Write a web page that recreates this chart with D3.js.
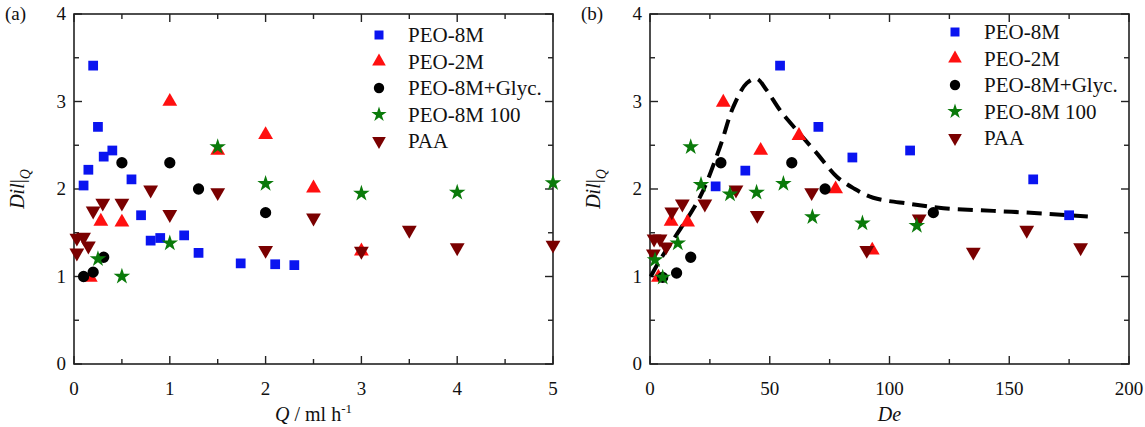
<!DOCTYPE html>
<html><head><meta charset="utf-8">
<script src="https://cdn.jsdelivr.net/npm/d3@7/dist/d3.min.js"></script>
<style>body{margin:0;background:#fff}svg{display:block}text{font-family:"Liberation Serif","Times New Roman",serif;fill:#111}</style>
</head><body><svg id="c" width="1145" height="427"></svg>
<script>
// ---- Data: panel (a) Dil_Q vs Q ----
const seriesNames = ["PEO-8M","PEO-2M","PEO-8M+Glyc.","PEO-8M 100","PAA"];
const a_peo8m_Q   = [0.20,0.25,0.31,0.40,0.15,0.10,0.60,0.70,0.80,0.90,1.15,1.30,1.74,2.10,2.30];
const a_peo8m_D   = [3.41,2.71,2.37,2.44,2.22,2.04,2.11,1.70,1.41,1.44,1.47,1.27,1.15,1.14,1.13];
const a_peo2m_Q   = [1.0,1.5,2.0,2.5,0.28,0.5,0.17,3.0];
const a_peo2m_D   = [3.0,2.44,2.62,2.01,1.63,1.62,0.99,1.29];
const a_glyc_Q    = [0.50,1.0,1.30,2.0,0.31,0.20,0.10];
const a_glyc_D    = [2.30,2.30,2.0,1.73,1.22,1.05,1.0];
const a_p100_Q    = [1.5,2.0,3.0,4.0,5.0,1.0,0.25,0.5];
const a_p100_D    = [2.48,2.06,1.95,1.96,2.07,1.38,1.20,1.0];
const a_paa_Q     = [0.80,1.5,1.0,2.5,2.0,0.30,0.5,0.20,0.10,0.03,0.15,0.03,3.5,4.0,5.0,3.0];
const a_paa_D     = [1.99,1.96,1.71,1.67,1.30,1.84,1.84,1.75,1.45,1.44,1.35,1.27,1.53,1.33,1.36,1.29];
// ---- Data: panel (b) Dil_Q vs De ----
const b_peo8m_De  = [54.3,70.3,84.5,39.8,27.4,108.6,160,175];
const b_peo8m_D   = [3.41,2.71,2.36,2.21,2.03,2.44,2.11,1.70];
const b_peo2m_De  = [30.6,46.2,62.2,77.5,8.8,15.7,92.8,3.5];
const b_peo2m_D   = [2.99,2.44,2.61,2.0,1.63,1.62,1.30,0.99];
const b_glyc_De   = [29.6,59.2,73.1,118.3,17.0,11.1,5.3];
const b_glyc_D    = [2.30,2.30,2.0,1.73,1.22,1.04,0.99];
const b_p100_De   = [17.0,21.3,33.4,44.5,55.7,67.8,88.7,111.4,11.6,2.1,5.3];
const b_p100_D    = [2.48,2.05,1.94,1.96,2.06,1.68,1.61,1.58,1.38,1.19,0.99];
const b_paa_De    = [35.9,22.9,13.5,9.1,44.8,67.5,90.5,1.7,4.2,6.7,1.4,112.4,135,157.3,179.8];
const b_paa_D     = [1.99,1.83,1.83,1.74,1.70,1.96,1.30,1.43,1.43,1.34,1.26,1.66,1.28,1.53,1.33];
// fitted dashed curve
const fitDe  = [0.3,4.2,9.7,20.9,29.2,34.8,40.4,44.5,48.7,54.3,61.3,69.6,78,84.9,93.2,108.6,122.5,143.4,164.2,186];
const fitDil = [1.0,1.19,1.42,1.91,2.48,2.94,3.21,3.26,3.13,2.90,2.67,2.41,2.14,2.01,1.90,1.83,1.78,1.75,1.72,1.68];
// ticks
const yTicks = [0,1,2,3,4];
const aXTicks = [0,1,2,3,4,5];
const bXTicks = [0,50,100,150,200];

const colors = ["#0a14f0","#ff1010","#000000","#0a7a0a","#7a0000"];
const symbols = [d3.symbolSquare, d3.symbolTriangle, d3.symbolCircle, d3.symbolStar, d3.symbolTriangle];
const sizes = [95, 95, 100, 85, 95];
const rot = [0,0,0,0,180];
const drawOrder = [0,1,2,4,3];

const svg = d3.select("#c");

function panel(x0,x1,xDomain,xMaj,xMin,series,label,xTitle,legX,legY){
  const x = d3.scaleLinear().domain(xDomain).range([x0,x1]);
  const y = d3.scaleLinear().domain([0,4]).range([364,14]);
  const g = svg.append("g");
  // frame
  g.append("rect").attr("x",x0).attr("y",14).attr("width",x1-x0).attr("height",350)
    .attr("fill","none").attr("stroke","#222").attr("stroke-width",1.6);
  // ticks
  const tk = g.append("g").attr("stroke","#222").attr("stroke-width",1.4);
  const xt = d3.range(xDomain[0], xDomain[1]+1e-9, xMin);
  xt.forEach(v=>{
    const maj = Math.abs(v/xMaj - Math.round(v/xMaj))<1e-6;
    const L = maj?8:5;
    tk.append("line").attr("x1",x(v)).attr("x2",x(v)).attr("y1",364).attr("y2",364-L);
    tk.append("line").attr("x1",x(v)).attr("x2",x(v)).attr("y1",14).attr("y2",14+L);
  });
  d3.range(0,4.0001,0.5).forEach(v=>{
    const maj = Math.abs(v-Math.round(v))<1e-6;
    const L = maj?8:5;
    tk.append("line").attr("x1",x0).attr("x2",x0+L).attr("y1",y(v)).attr("y2",y(v));
    tk.append("line").attr("x1",x1).attr("x2",x1-L).attr("y1",y(v)).attr("y2",y(v));
  });
  // tick labels
  const xLabels = xDomain[1]===5?aXTicks:bXTicks;
  g.selectAll(".xl").data(xLabels).join("text").attr("x",d=>x(d)).attr("y",395)
    .attr("text-anchor","middle").attr("font-size",19).text(d=>d);
  g.selectAll(".yl").data(yTicks).join("text").attr("x",x0-8).attr("y",d=>y(d)+6)
    .attr("text-anchor","end").attr("font-size",19).text(d=>d);
  // panel label
  g.append("text").attr("x",x0-69).attr("y",20).attr("font-size",19).text(label);
  // y title
  const yt = g.append("text").attr("transform",`translate(${x0-50},${189}) rotate(-90)`)
    .attr("text-anchor","middle").attr("font-size",20);
  yt.append("tspan").attr("font-style","italic").text("Dil");
  yt.append("tspan").text("|");
  yt.append("tspan").attr("font-style","italic").attr("font-size",14).attr("dy",6).text("Q");
  // x title
  const xtl = g.append("text").attr("x",(x0+x1)/2).attr("y",421).attr("text-anchor","middle").attr("font-size",20);
  xTitle(xtl);
  return {g,x,y};
}

function drawSeries(p, series){
  drawOrder.forEach(i=>{
    const [xs,ys] = series[i];
    const sym = d3.symbol().type(symbols[i]).size(sizes[i]);
    p.g.append("g").selectAll("path").data(xs.map((v,k)=>[v,ys[k]])).join("path")
      .attr("d",sym)
      .attr("transform",d=>`translate(${p.x(d[0])},${p.y(d[1])}) rotate(${rot[i]})`)
      .attr("fill",colors[i]);
  });
}

function legend(p,lx,ly){
  seriesNames.forEach((n,i)=>{
    const yy = ly + i*26.5;
    p.g.append("path").attr("d",d3.symbol().type(symbols[i]).size(sizes[i]*0.85)())
      .attr("transform",`translate(${lx},${yy}) rotate(${rot[i]})`).attr("fill",colors[i]);
    p.g.append("text").attr("x",lx+29).attr("y",yy+7).attr("font-size",21).text(n);
  });
}

const pa = panel(74,553,[0,5],1,0.5,null,"(a)",t=>{
  t.append("tspan").attr("font-style","italic").text("Q");
  t.append("tspan").text(" / ml h");
  t.append("tspan").attr("font-size",13).attr("dy",-8).text("-1");
});
drawSeries(pa,[[a_peo8m_Q,a_peo8m_D],[a_peo2m_Q,a_peo2m_D],[a_glyc_Q,a_glyc_D],[a_p100_Q,a_p100_D],[a_paa_Q,a_paa_D]]);
legend(pa,379,35);

const pb = panel(650,1129,[0,200],50,25,null,"(b)",t=>{
  t.append("tspan").attr("font-style","italic").text("De");
});
pb.g.append("path").datum(fitDe.map((v,k)=>[v,fitDil[k]]))
  .attr("d",d3.line().x(d=>pb.x(d[0])).y(d=>pb.y(d[1])).curve(d3.curveCatmullRom))
  .attr("fill","none").attr("stroke","#000").attr("stroke-width",4).attr("stroke-dasharray","15,8");
drawSeries(pb,[[b_peo8m_De,b_peo8m_D],[b_peo2m_De,b_peo2m_D],[b_glyc_De,b_glyc_D],[b_p100_De,b_p100_D],[b_paa_De,b_paa_D]]);
legend(pb,955,32);
</script></body></html>
